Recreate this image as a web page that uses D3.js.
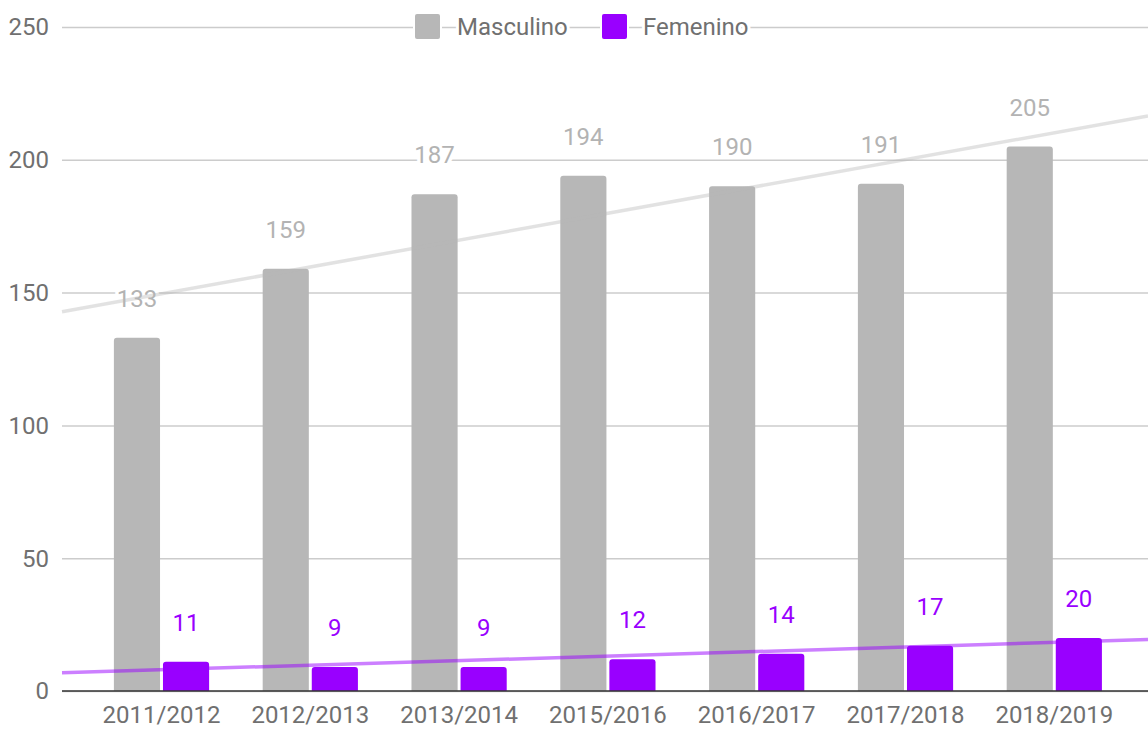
<!DOCTYPE html>
<meta charset="utf-8">
<style>
	body { margin: 0; background: #fff; }
	svg text { font-family: Roboto, "Noto Sans", sans-serif; }
</style>

<div id="chartBx"></div>

<script src="https://cdn.jsdelivr.net/npm/d3@7"></script>
<script>

	// data
	var categories = ["2011/2012", "2012/2013", "2013/2014", "2015/2016", "2016/2017", "2017/2018", "2018/2019"];
	var seriesNames = ["Masculino", "Femenino"];
	var masculino = [133, 159, 187, 194, 190, 191, 205];
	var femenino = [11, 9, 9, 12, 14, 17, 20];
	var yTicks = [0, 50, 100, 150, 200, 250];

	makeBarChart("chartBx", 1148, 729);

	// bar with rounded top corners
	function topRounded(x, y, w, h, r) {
		r = Math.min(r, h, w / 2);
		return "M" + x + "," + (y + h) +
			"V" + (y + r) +
			"Q" + x + "," + y + " " + (x + r) + "," + y +
			"H" + (x + w - r) +
			"Q" + (x + w) + "," + y + " " + (x + w) + "," + (y + r) +
			"V" + (y + h) + "Z";
	}

	// least squares on category index
	function linReg(vals) {
		var mx = d3.mean(vals, function(d, i) { return i; });
		var my = d3.mean(vals);
		var sxy = 0, sxx = 0;
		vals.forEach(function(v, i) { sxy += (i - mx) * (v - my); sxx += (i - mx) * (i - mx); });
		var b = sxy / sxx;
		return function(i) { return my + b * (i - mx); };
	}

	function makeBarChart(div_id, pWidth, pHeight) {

		var plot = {left: 62, right: 1148, top: 27, bottom: 691};

		var svg = d3.select("#" + div_id).append("svg")
			.attr("width", pWidth)
			.attr("height", pHeight);

		var colors = d3.scaleOrdinal().domain(seriesNames).range(["#b7b7b7", "#9900ff"]);
		var labelColors = d3.scaleOrdinal().domain(seriesNames).range(["#b3b3b3", "#9900ff"]);
		var textColor = "#707070";

		var x0 = d3.scaleBand().domain(categories).range([87.1, 1128.7]).paddingInner(0.36).paddingOuter(0.18);
		var x1 = d3.scaleBand().domain(seriesNames).range([0, x0.bandwidth()]).paddingInner(0.06);
		var y = d3.scaleLinear().domain([0, 250]).range([plot.bottom, plot.top]);

		var data = categories.map(function(c, i) {
			return {cat: c, values: [{key: "Masculino", value: masculino[i]}, {key: "Femenino", value: femenino[i]}]};
		});

		// grid
		var yAxis = d3.axisLeft(y).tickValues(yTicks).tickSize(-(plot.right - plot.left)).tickPadding(13);
		var gy = svg.append("g")
			.attr("transform", "translate(" + plot.left + ",0)")
			.call(yAxis);
		gy.select(".domain").remove();
		gy.selectAll(".tick line").attr("stroke", "#cccccc").attr("stroke-width", 1.5);
		gy.selectAll(".tick text")
			.attr("fill", textColor)
			.attr("font-size", 24)
			.attr("dy", "0.33em");

		// bars
		var groups = svg.append("g").selectAll("g")
			.data(data)
			.enter().append("g")
			.attr("transform", function(d) { return "translate(" + x0(d.cat) + ",0)"; });

		groups.selectAll("path")
			.data(function(d) { return d.values; })
			.enter().append("path")
			.attr("fill", function(d) { return colors(d.key); })
			.attr("d", function(d) {
				return topRounded(x1(d.key), y(d.value), x1.bandwidth(), y(0) - y(d.value), 3);
			});

		// baseline
		svg.append("line")
			.attr("x1", plot.left).attr("x2", plot.right)
			.attr("y1", y(0)).attr("y2", y(0))
			.attr("stroke", "#333333").attr("stroke-width", 1.5);

		// trendlines
		var step = x0.step();
		var c0 = x0(categories[0]) + x0.bandwidth() / 2;
		[masculino, femenino].forEach(function(vals, k) {
			var f = linReg(vals);
			var pts = [plot.left, plot.right].map(function(px) { return [px, y(f((px - c0) / step))]; });
			svg.append("path")
				.attr("d", d3.line()(pts))
				.attr("stroke", colors(seriesNames[k]))
				.attr("stroke-opacity", k === 0 ? 0.4 : 0.5)
				.attr("stroke-width", 3.5)
				.attr("fill", "none");
		});

		// x labels
		svg.append("g").selectAll("text")
			.data(categories)
			.enter().append("text")
			.attr("x", function(d) { return x0(d) + x0.bandwidth() / 2; })
			.attr("y", y(0) + 32)
			.attr("text-anchor", "middle")
			.attr("font-size", 24)
			.attr("fill", textColor)
			.text(function(d) { return d; });

		// data labels (white halo cuts grid & trend)
		groups.selectAll("text")
			.data(function(d) { return d.values; })
			.enter().append("text")
			.attr("x", function(d) { return x1(d.key) + x1.bandwidth() / 2; })
			.attr("y", function(d) { return y(d.value) - 31; })
			.attr("text-anchor", "middle")
			.attr("font-size", 24)
			.attr("fill", function(d) { return labelColors(d.key); })
			.attr("stroke", "#fff")
			.attr("stroke-width", 7)
			.attr("stroke-linejoin", "round")
			.attr("paint-order", "stroke")
			.text(function(d) { return d.value; });

		// legend
		var legendPos = [{sx: 415, tx: 457}, {sx: 602, tx: 643}];
		var legend = svg.append("g").attr("class", "legend");
		seriesNames.forEach(function(name, i) {
			legend.append("rect")
				.attr("x", legendPos[i].sx).attr("y", 14)
				.attr("width", 25).attr("height", 25)
				.attr("rx", 2)
				.attr("fill", colors(name))
				.attr("stroke", "#fff").attr("stroke-width", 4)
				.attr("paint-order", "stroke");
			legend.append("text")
				.attr("x", legendPos[i].tx).attr("y", 35)
				.attr("font-size", 24)
				.attr("fill", textColor)
				.attr("stroke", "#fff").attr("stroke-width", 6)
				.attr("stroke-linejoin", "round")
				.attr("paint-order", "stroke")
				.text(name);
		});
	}

</script>
